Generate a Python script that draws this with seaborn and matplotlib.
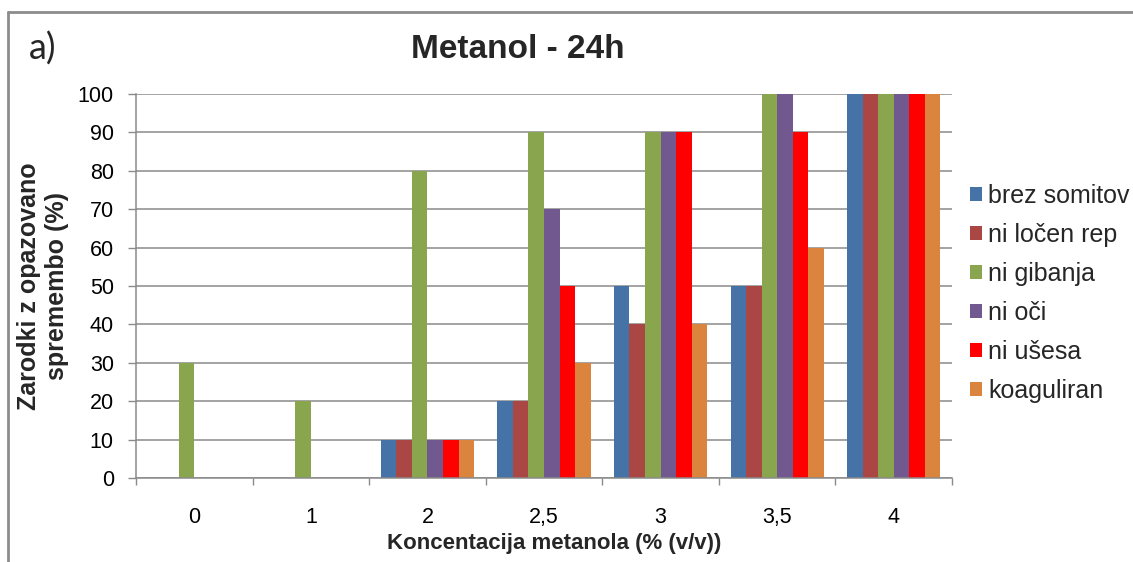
import numpy as np
import pandas as pd
import matplotlib
matplotlib.use("Agg")
import matplotlib.pyplot as plt
from matplotlib.lines import Line2D
from matplotlib.ticker import FixedLocator
import seaborn as sns

# Concentrations of methanol (% v/v)
koncentracije = ["0", "1", "2", "2,5", "3", "3,5", "4"]

# Share of embryos with the observed change (%) per category
brez_somitov = [0, 0, 10, 20, 50, 50, 100]
ni_locen_rep = [0, 0, 10, 20, 40, 50, 100]
ni_gibanja = [30, 20, 80, 90, 90, 100, 100]
ni_oci = [0, 0, 10, 70, 90, 100, 100]
ni_usesa = [0, 0, 10, 50, 90, 90, 100]
koaguliran = [0, 0, 10, 30, 40, 60, 100]

spremembe = ["brez somitov", "ni ločen rep", "ni gibanja", "ni oči", "ni ušesa", "koaguliran"]
vrednosti = [brez_somitov, ni_locen_rep, ni_gibanja, ni_oci, ni_usesa, koaguliran]
barve = ["#4572A7", "#AA4643", "#89A54E", "#71588F", "#FF0000", "#DB843D"]

rows = []
for ime, serija in zip(spremembe, vrednosti):
    for k, v in zip(koncentracije, serija):
        rows.append({"koncentracija": k, "sprememba": ime, "delez": v})
df = pd.DataFrame(rows)

sns.set_theme(style="white")
plt.rcParams["font.family"] = ["Liberation Sans", "DejaVu Sans"]

W, H = 1133, 562
fig = plt.figure(figsize=(W / 100, H / 100), dpi=100)
ax = fig.add_axes([136 / W, 1 - 478 / H, (952 - 136) / W, (478 - 94) / H])

sns.barplot(
    data=df, x="koncentracija", y="delez", hue="sprememba",
    order=koncentracije, hue_order=spremembe, palette=barve,
    saturation=1, width=0.8, gap=0, errorbar=None, linewidth=0, ax=ax,
)

grid_c = "#8a8a8a"
ax.set_ylim(0, 100)
ax.set_xlim(-0.5, len(koncentracije) - 0.5)
ax.set_yticks(np.arange(0, 101, 10))
ax.yaxis.grid(True, color=grid_c, linewidth=1.1)
ax.xaxis.grid(False)
ax.set_axisbelow(True)
for s in ["top", "right"]:
    ax.spines[s].set_visible(False)
for s in ["left", "bottom"]:
    ax.spines[s].set_color(grid_c)
    ax.spines[s].set_linewidth(1.1)

ax.tick_params(axis="y", which="major", length=6, width=1, color=grid_c,
               direction="out", left=True, labelsize=15.5, pad=10, labelcolor="black")
ax.tick_params(axis="x", which="major", length=0, labelsize=15.5, pad=21, labelcolor="black")
ax.xaxis.set_minor_locator(FixedLocator(np.arange(-0.5, len(koncentracije), 1.0)))
ax.tick_params(axis="x", which="minor", length=5, width=1, color=grid_c,
               direction="out", bottom=True)

ax.set_xlabel("Koncentacija metanola (% (v/v))", fontsize=16, fontweight="bold")
ax.xaxis.set_label_coords(0.513, -0.143)
ax.set_ylabel("Zarodki z opazovano\nspremembo (%)", fontsize=18, fontweight="bold",
              linespacing=1.2)
ax.yaxis.set_label_coords(-0.082, 0.5)

ax.legend(
    loc="upper left", bbox_to_anchor=(970 / W, 1 - 184 / H),
    bbox_transform=fig.transFigure, frameon=False, fontsize=18,
    handlelength=0.48, handleheight=0.48, handletextpad=0.25,
    labelspacing=0.6, borderpad=0, borderaxespad=0,
)

fig.text(518 / W, 1 - 49 / H, "Metanol - 24h", ha="center", va="center",
         fontsize=24, fontweight="bold")
fig.text(29 / W, 1 - 49 / H, "a)", ha="left", va="center", fontsize=26,
         family=["Lato", "DejaVu Sans"])

# outer frame (left and top edges)
frame_c = "#8c8c8c"
fx, fy = 8 / W, 1 - 12 / H
fig.add_artist(Line2D([fx, fx], [0, fy], transform=fig.transFigure, color=frame_c, linewidth=2))
fig.add_artist(Line2D([fx, 1], [fy, fy], transform=fig.transFigure, color=frame_c, linewidth=2))

fig.savefig("out.png", dpi=100, facecolor="white")
